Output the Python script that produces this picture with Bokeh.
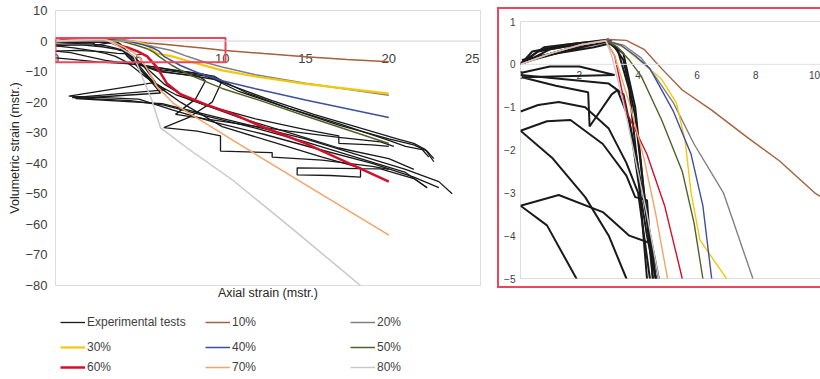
from bokeh.plotting import figure
from bokeh.models import Legend, LegendItem, Span, FixedTicker, LabelSet, ColumnDataSource
from bokeh.layouts import row, column
from bokeh.embed import file_html
from bokeh.resources import INLINE
from bokeh.core.properties import value

FONT = "Liberation Sans"

# ---------------- data ----------------
MAIN_X_TICKS = [0, 5, 10, 15, 20, 25]
MAIN_Y_TICKS = [10, 0, -10, -20, -30, -40, -50, -60, -70, -80]
ZOOM_X_TICKS = [0, 2, 4, 6, 8, 10]
ZOOM_Y_TICKS = [1, 0, -1, -2, -3, -4, -5]
ZOOM_BOX_X = [0, 10.2]
ZOOM_BOX_Y = [-6.9, 1.0]

LEVELS = ["10%", "20%", "30%", "40%", "50%", "60%", "70%", "80%"]
COLORS = ["#a5603c", "#808080", "#f2c80f", "#3c4fa0", "#4f6228", "#d40f2a", "#f4a46a", "#c8c8c8"]

m10_x = [0, 1, 2, 3, 3.6, 4.2, 4.8, 5.5, 6.5, 7.7, 8.8, 10, 12.5, 15, 17.5, 20]
m10_y = [0, 0.25, 0.45, 0.58, 0.56, 0.35, -0.1, -0.6, -1.07, -1.7, -2.25, -3.0, -4.1, -5.1, -6.0, -6.8]
m20_x = [0, 1, 2, 2.9, 3.5, 4.1, 4.6, 5.2, 5.9, 6.9, 7.9, 9, 10, 12, 15, 20]
m20_y = [0, 0.25, 0.45, 0.55, 0.45, 0.15, -0.3, -0.9, -1.86, -3.0, -5.0, -7.0, -8.5, -11, -13.8, -17.7]
m30_x = [0, 1, 2, 2.9, 3.5, 4.2, 4.8, 5.3, 5.6, 5.8, 6.1, 7, 8, 10, 12, 15, 20]
m30_y = [0, 0.25, 0.45, 0.55, 0.4, 0.0, -0.35, -0.9, -1.8, -3.0, -4.1, -5.0, -6.6, -9.6, -11.6, -14.0, -17.2]
m40_x = [0, 1, 2, 2.9, 3.4, 3.9, 4.4, 5.2, 5.8, 6.2, 6.5, 7.5, 8.5, 10, 12, 15, 20]
m40_y = [0, 0.25, 0.45, 0.55, 0.45, 0.2, -0.1, -1.1, -2.1, -3.3, -5.0, -8.0, -10.3, -13.0, -15.6, -19.3, -25.0]
m50_x = [0, 1, 2, 2.9, 3.3, 3.7, 4.1, 4.8, 5.5, 5.9, 6.2, 7, 8, 10, 12.3, 15, 20]
m50_y = [0, 0.25, 0.45, 0.55, 0.4, 0.1, -0.27, -1.3, -2.5, -3.7, -5.0, -8.0, -11.0, -15.5, -19.5, -24.5, -33.5]
m60_x = [0, 1, 2, 2.9, 3.2, 3.6, 4.3, 4.9, 5.5, 6.1, 6.7, 7.5, 9, 10.7, 12.3, 15, 20]
m60_y = [0, 0.25, 0.45, 0.55, 0.2, -1.1, -2.1, -3.3, -5.0, -8.7, -14.0, -17.4, -20.7, -24.0, -27.8, -33.5, -46.0]
m70_x = [0, 1, 2, 2.9, 3.2, 3.7, 4.2, 4.6, 5.0, 5.5, 6.1, 7.1, 10.7, 15, 20]
m70_y = [0, 0.25, 0.45, 0.55, 0.2, -0.9, -2.2, -3.5, -5.0, -9.0, -15.0, -20.5, -32.7, -47.0, -63.5]
m80_x = [0, 1, 2, 2.9, 3.1, 3.5, 3.9, 4.3, 4.7, 5.3, 5.8, 6.3, 7.9, 10.7, 14, 18.3]
m80_y = [0, 0.25, 0.45, 0.55, 0.2, -0.9, -2.2, -3.5, -5.0, -13.0, -19.6, -28.4, -35.0, -45.8, -60.5, -80.0]

MODEL_X = [m10_x, m20_x, m30_x, m40_x, m50_x, m60_x, m70_x, m80_x]
MODEL_Y = [m10_y, m20_y, m30_y, m40_y, m50_y, m60_y, m70_y, m80_y]

e1_x = [0, 0.4, 1.5, 3.0, 0.1, 0.6, 1.8, 2.9, 3.3, 3.7, 4.0, 4.3, 4.8, 5.8, 7.2, 9.0, 11, 13, 15.5, 18, 20.5, 21.5, 22.2, 22.7]
e1_y = [0, 0.3, 0.45, 0.58, 0.05, 0.3, 0.45, 0.55, 0.35, -0.6, -2.5, -5.0, -7.5, -9.0, -10.0, -11.5, -15.5, -19.5, -24.0, -28.0, -32.0, -33.5, -35.5, -39.5]
e2_x = [0, 1.0, 2.2, 3.1, 0.05, 1.2, 2.5, 3.1, 3.5, 3.9, 4.2, 4.6, 5.2, 6.2, 7.5, 8.6, 9.0, 8.4, 7.2, 9.0, 11.5, 14, 17, 19.5, 20.3]
e2_y = [0.0, 0.35, 0.5, 0.55, 0.1, 0.25, 0.4, 0.5, 0.1, -1.2, -3.0, -5.0, -8.0, -10.0, -10.8, -11.5, -13.0, -19.0, -24.0, -25.5, -27.5, -29.5, -31.5, -33.0, -34.5]
e3_x = [0, 1.0, 2.0, 3.2, 0.05, 1.2, 2.3, 2.35, 3.1, 3.3, 3.7, 4.0, 4.3, 4.6, 5.0, 5.8, 6.6, 1.0, 4.5, 6.5, 9.0, 12, 15, 18, 21, 22.3]
e3_y = [-0.2, -0.05, -0.05, -0.25, -0.3, -0.5, -0.65, -1.45, -0.7, -0.6, -1.3, -2.7, -4.0, -5.0, -8.0, -13.0, -16.0, -18.5, -19.5, -21.0, -24.5, -28.5, -33.0, -38.0, -43.0, -48.0]
e4_x = [0, 0.6, 1.3, 2.2, 3.0, 3.6, 4.0, 4.2, 4.4, 5.0, 6.0, 7.2, 9.0, 12, 15, 17, 17, 19, 20]
e4_y = [-1.1, -0.95, -0.88, -1.0, -1.5, -2.3, -3.0, -4.0, -5.0, -9.0, -14.0, -17.5, -21.0, -25.5, -29.0, -31.0, -33.5, -34.0, -34.5]
e5_x = [0, 0.9, 1.7, 2.8, 3.6, 3.9, 4.3, 4.5, 5.2, 6.0, 6.3, 1.2, 6.4, 9.0, 12, 15, 18, 21, 23, 23.8]
e5_y = [-1.55, -1.33, -1.3, -1.86, -2.6, -3.1, -3.17, -5.0, -10, -15, -17, -18.8, -20.5, -24.0, -28.0, -32.0, -37.0, -42.0, -46.0, -50.0]
e6_x = [0, 1.1, 2.2, 3.0, 3.6, 4.3, 5.0, 6.2, 7.5, 10, 13, 16, 18.3, 18.3, 16.5, 14.5, 14.5, 19.5, 21.5, 22.3]
e6_y = [-1.55, -2.2, -3.1, -4.0, -5.0, -7.0, -10.0, -15.0, -20.0, -28.0, -33.0, -38.0, -41.5, -44.5, -44.0, -43.8, -41.5, -41.8, -45.0, -48.0]
e7_x = [0, 1.3, 2.8, 3.7, 4.4, 4.6, 5.5, 6.5, 8.0, 11, 14, 17, 20, 21.5]
e7_y = [-3.3, -3.05, -3.45, -4.0, -4.17, -5.0, -9.0, -14.0, -19.0, -25.0, -30.0, -35.0, -38.5, -42.0]
e8_x = [0, 0.9, 1.9, 3.0, 4.5, 6.0, 7.5, 9.5, 10, 9.4, 8.0, 6.5, 8.5, 9.9, 9.9, 13.0, 13.0, 16, 19, 20]
e8_y = [-3.3, -3.76, -5.0, -6.3, -7.5, -8.5, -9.8, -11.5, -13, -20, -25, -28.3, -29.5, -31.0, -36.0, -36.5, -38.0, -39, -41, -42]
e9_x = [0, 1, 2.5, 4.5, 6.0, 7.0, 8.0, 9.0, 10, 11.5, 14, 17, 20, 21.5, 22.3, 22.7]
e9_y = [-5.5, -6.0, -6.8, -7.5, -8.5, -9.5, -10.2, -11.0, -13.0, -17.0, -22.0, -27.5, -32.0, -34.0, -36.0, -38.5]
e10_x = [0, 0.8, 2.0, 3.0, 3.5, 3.9, 4.2, 4.5, 5.2, 6.5, 8.0, 9.5, 11, 14, 17, 20, 21, 22.0, 22.4]
e10_y = [0.02, 0.4, 0.5, 0.55, 0.25, -1.0, -3.0, -5.0, -8.0, -10.0, -11.2, -12.5, -16.5, -22.0, -27.0, -32.5, -34.5, -35.5, -38.0]
e11_x = [0, 1.5, 3.0, 3.5, 3.9, 4.3, 4.7, 5.4, 6.0, 0.8, 5.0, 7.0, 9.5, 12.5, 15.5, 19, 21.5, 23.0]
e11_y = [-0.25, -0.35, -0.45, -0.7, -2.0, -3.6, -5.0, -9.0, -13.5, -18.0, -19.0, -22.5, -26.5, -30.5, -35.0, -40.0, -44.5, -48.0]

EXP_X = [e1_x, e2_x, e3_x, e4_x, e5_x, e6_x, e7_x, e8_x, e9_x, e10_x, e11_x]
EXP_Y = [e1_y, e2_y, e3_y, e4_y, e5_y, e6_y, e7_y, e8_y, e9_y, e10_y, e11_y]

LABEL_COLOR = "#404040"
BOX_COLOR = "#e8485f"
MAIN_WIDTHS = [1.5, 1.5, 2.2, 1.5, 1.5, 2.5, 1.5, 1.5]


def style_common(fig):
    fig.background_fill_color = "white"
    fig.border_fill_color = "white"
    fig.xgrid.visible = False
    fig.ygrid.visible = False
    fig.outline_line_color = "#dcdcdc"
    fig.outline_line_width = 1


def style_axis(ax, size):
    ax.axis_line_color = None
    ax.major_tick_line_color = None
    ax.minor_tick_line_color = None
    ax.major_tick_out = 0
    ax.major_tick_in = 0
    ax.major_label_text_font = FONT
    ax.major_label_text_font_size = size
    ax.major_label_text_color = LABEL_COLOR
    ax.axis_label_text_font = FONT
    ax.axis_label_text_font_size = "12.5px"
    ax.axis_label_text_font_style = "normal"
    ax.axis_label_text_color = "#262626"


def tick_labels(fig, ticks, size, offset):
    src = ColumnDataSource(dict(x=ticks, y=[0] * len(ticks), t=[str(t) for t in ticks]))
    fig.add_layout(LabelSet(x="x", y="y", text="t", source=src, y_offset=-offset,
                            text_align="center", text_baseline="middle",
                            text_font=value(FONT), text_font_size=size,
                            text_color=LABEL_COLOR, level="underlay"))


# ---------------- main chart ----------------
# a little room past the last tick so its label is not clipped
p = figure(frame_width=425, frame_height=275, x_range=(0, 25.5), y_range=(-80, 10),
           output_backend="svg", toolbar_location=None,
           min_border_left=55, min_border_right=17, min_border_top=10, min_border_bottom=22)
style_common(p)

yax = p.yaxis[0]
style_axis(yax, "13px")
yax.ticker = FixedTicker(ticks=MAIN_Y_TICKS)
yax.major_label_standoff = 8
yax.axis_label = "Volumetric strain (mstr.)"
yax.axis_label_standoff = 0

xax = p.xaxis[0]
style_axis(xax, "13px")
xax.ticker = FixedTicker(ticks=[])
xax.axis_label = "Axial strain (mstr.)"
xax.axis_label_standoff = 0

p.add_layout(Span(location=0, dimension="width", line_color="#d0d0d0", line_width=1))
tick_labels(p, MAIN_X_TICKS, "13px", 17)

p.multi_line(xs=EXP_X, ys=EXP_Y, line_color="#1a1a1a", line_width=1.3)
for xs, ys, c, w in zip(MODEL_X, MODEL_Y, COLORS, MAIN_WIDTHS):
    p.line(xs, ys, line_color=c, line_width=w)

p.quad(left=[ZOOM_BOX_X[0]], right=[ZOOM_BOX_X[1]], bottom=[ZOOM_BOX_Y[0]], top=[ZOOM_BOX_Y[1]],
       fill_alpha=0, line_color=BOX_COLOR, line_width=2)

# ---------------- legend strip ----------------
lg = figure(width=497, height=72, x_range=(0, 1), y_range=(0, 1),
            output_backend="svg", toolbar_location=None,
            x_axis_location=None, y_axis_location=None,
            min_border_left=0, min_border_right=0, min_border_top=0, min_border_bottom=0)
lg.xgrid.visible = False
lg.ygrid.visible = False
lg.outline_line_color = None
lg.background_fill_color = "white"
lg.border_fill_color = "white"

# legend swatches: renderers placed outside the visible range
leg_r = [lg.line(x=[-5, -4], y=[-5, -5], line_color="#1a1a1a", line_width=1.3)]
for c, w in zip(COLORS, MAIN_WIDTHS):
    leg_r.append(lg.line(x=[-5, -4], y=[-5, -5], line_color=c, line_width=w))
leg_labels = ["Experimental tests"] + LEVELS

row_bottoms = [49, 24, 4]
for i, yb in enumerate(row_bottoms):
    its = [LegendItem(label=leg_labels[k], renderers=[leg_r[k]]) for k in range(3 * i, 3 * i + 3)]
    lg.add_layout(Legend(items=its, orientation="horizontal", location=(5, yb),
                         label_text_font=FONT, label_text_font_size="12px",
                         label_text_color=LABEL_COLOR,
                         glyph_width=25, glyph_height=16, label_height=16, label_width=112,
                         label_standoff=2, spacing=6, padding=0, margin=0,
                         border_line_color=None, background_fill_alpha=0))

# ---------------- zoom chart ----------------
q = figure(frame_width=296, frame_height=253, x_range=(0, 10.2), y_range=(-5, 1),
           output_backend="svg", toolbar_location=None, x_axis_location=None,
           min_border_left=21, min_border_right=4, min_border_top=12, min_border_bottom=12)
style_common(q)
qy = q.yaxis[0]
style_axis(qy, "10px")
qy.ticker = FixedTicker(ticks=ZOOM_Y_TICKS)
qy.major_label_standoff = 5

q.add_layout(Span(location=0, dimension="width", line_color="#e0e0e0", line_width=1))
tick_labels(q, ZOOM_X_TICKS, "10px", 11)
q.multi_line(xs=EXP_X, ys=EXP_Y, line_color="#1a1a1a", line_width=2)
for xs, ys, c in zip(MODEL_X, MODEL_Y, COLORS):
    q.line(xs, ys, line_color=c, line_width=1.4)

q.styles = {"border": "2px solid " + BOX_COLOR}
q.margin = (7, 0, 0, 0)

layout = row(column(p, lg), q)
open("out.html", "w").write(file_html(layout, INLINE))
